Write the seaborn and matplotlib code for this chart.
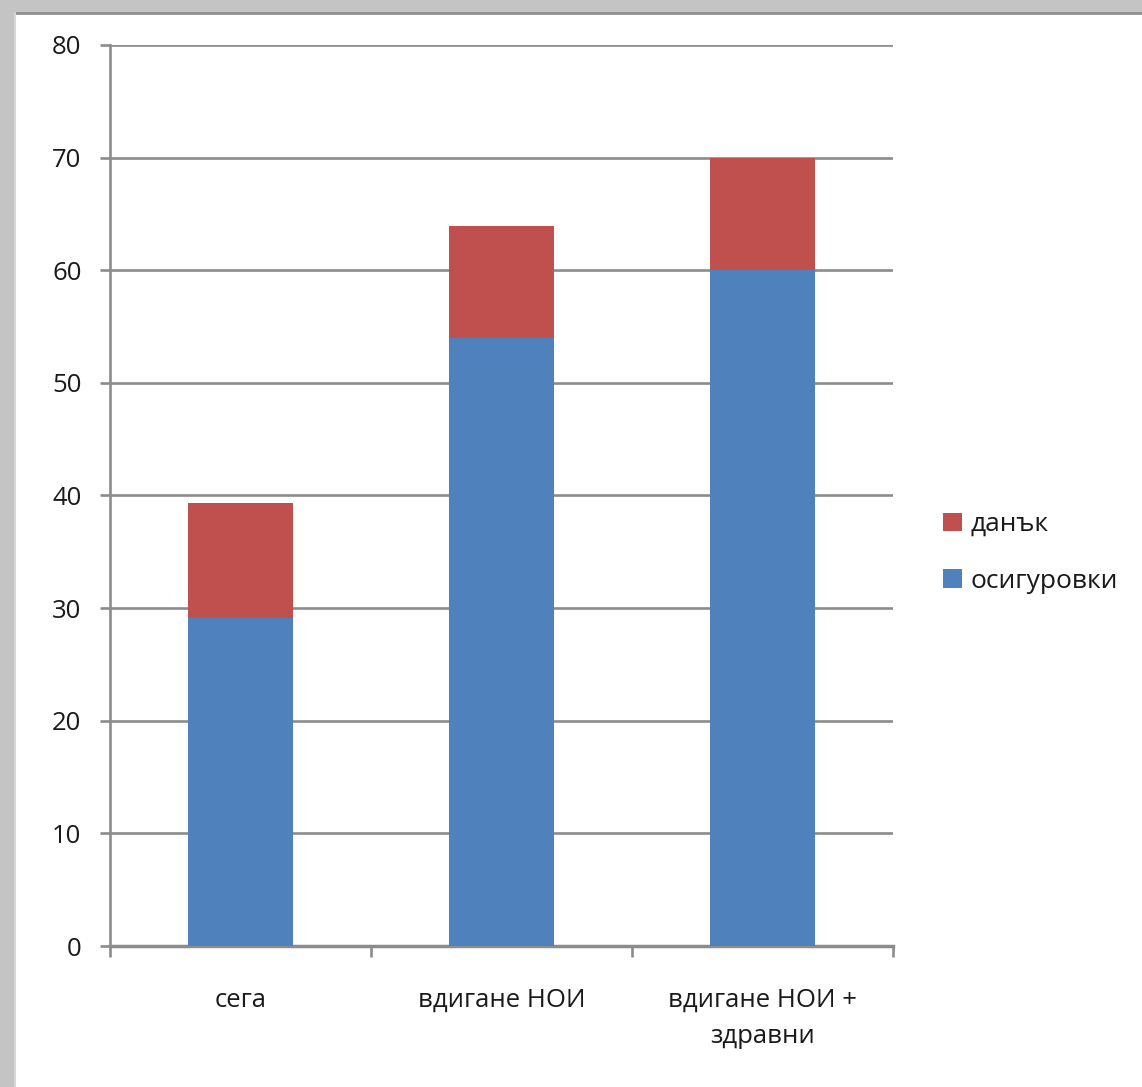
import matplotlib
matplotlib.use("Agg")
import matplotlib.pyplot as plt
import seaborn as sns
from matplotlib.patches import Patch, Rectangle
from matplotlib.lines import Line2D

categories = ["сега", "вдигане НОИ", "вдигане НОИ +\nздравни"]
osigurovki = [29.1, 54.0, 60.0]
danak = [10.2, 9.9, 10.0]
series_names = ["данък", "осигуровки"]
y_ticks = [0, 10, 20, 30, 40, 50, 60, 70, 80]

totals = [a + b for a, b in zip(osigurovki, danak)]

BLUE = "#4F81BD"
RED = "#C0504D"
GRID = "#8c8c8c"

sns.set_theme(style="white")
plt.rcParams["font.family"] = ["Open Sans", "DejaVu Sans"]

fig = plt.figure(figsize=(11.42, 10.87), dpi=100)
fig.patch.set_facecolor("#c4c4c4")
# white "window" area
fig.patches.append(Rectangle((15 / 1142, 0), 1, 1 - 13 / 1087, transform=fig.transFigure,
                             facecolor="white", edgecolor="none", zorder=-5))
fig.lines.append(Line2D([15 / 1142, 1], [1 - 13 / 1087] * 2, transform=fig.transFigure,
                        color="#8f8f8f", lw=2.0, zorder=-4))
fig.lines.append(Line2D([15 / 1142] * 2, [0, 1 - 13 / 1087], transform=fig.transFigure,
                        color="#d8d8d8", lw=1.5, zorder=-4))

ax = fig.add_axes([110 / 1142, (1087 - 946) / 1087, (893 - 110) / 1142, (946 - 45) / 1087])
ax.set_zorder(2)
ax.set_facecolor("none")

sns.barplot(x=categories, y=totals, order=categories, color=RED, saturation=1,
            width=0.4, ax=ax, zorder=3)
sns.barplot(x=categories, y=osigurovki, order=categories, color=BLUE, saturation=1,
            width=0.4, ax=ax, zorder=3)
for p in ax.patches:
    p.set_linewidth(0)

ax.set_xlim(-0.5, 2.5)
ax.set_ylim(0, 80)
ax.set_yticks(y_ticks)
ax.set_yticklabels([str(v) for v in y_ticks])
ax.yaxis.grid(True, color=GRID, linewidth=1.9, zorder=0)
ax.set_axisbelow(True)
ax.set_xlabel("")
ax.set_ylabel("")

for s in ["top", "right"]:
    ax.spines[s].set_visible(False)
ax.spines["left"].set_color(GRID)
ax.spines["left"].set_linewidth(1.9)
ax.spines["bottom"].set_color(GRID)
ax.spines["bottom"].set_linewidth(2.5)

ax.tick_params(axis="y", which="major", direction="out", length=7, width=1.9,
               color=GRID, left=True, pad=13.5, labelsize=18.5, labelcolor="#1a1a1a")
ax.set_xticks([-0.5, 0.5, 1.5, 2.5], minor=True)
ax.tick_params(axis="x", which="minor", direction="out", length=8, width=1.9,
               color=GRID, bottom=True)
ax.tick_params(axis="x", which="major", length=0, pad=30, labelsize=18.5,
               labelcolor="#1a1a1a")
for lbl in ax.get_xticklabels():
    lbl.set_multialignment("center")
    lbl.set_linespacing(1.62)

handles = [Patch(facecolor=RED, edgecolor="none"), Patch(facecolor=BLUE, edgecolor="none")]
fig.legend(handles, series_names, loc="center left",
           bbox_to_anchor=(919 / 1142, 1 - 553 / 1087), frameon=False,
           fontsize=19, handlelength=0.72, handleheight=0.72, handletextpad=0.35,
           labelspacing=1.2, labelcolor="#1a1a1a")

fig.savefig("out.png", dpi=100)
